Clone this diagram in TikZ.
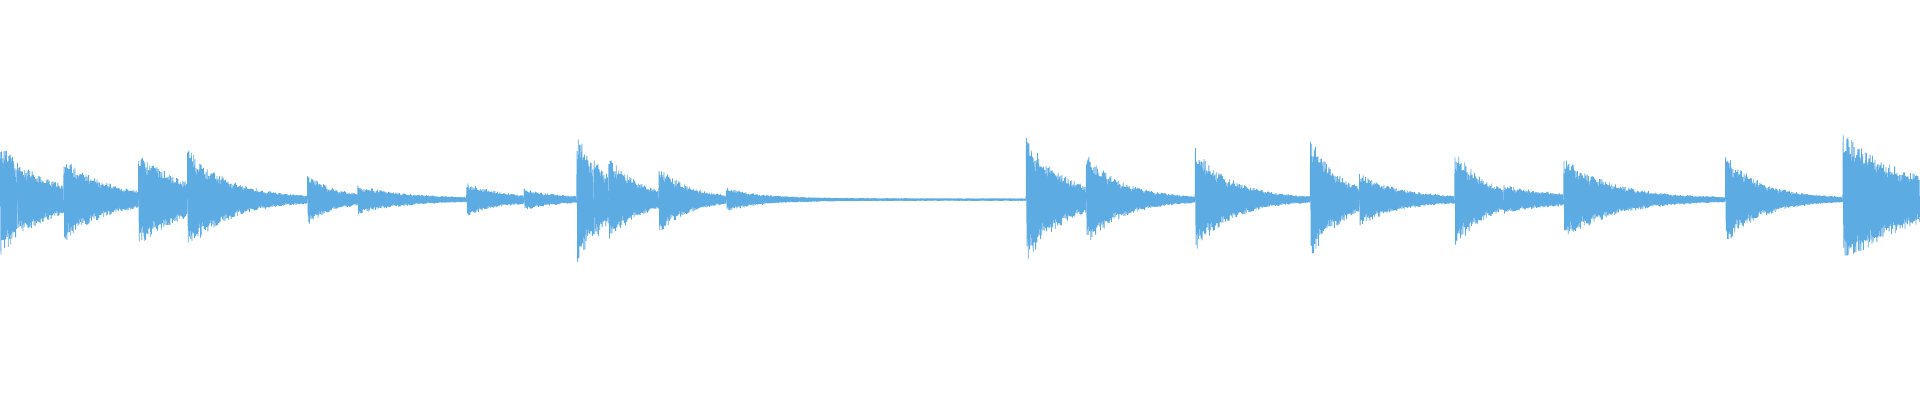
\documentclass[tikz,border=0pt]{standalone}
\definecolor{wave}{RGB}{93,171,227}
\begin{document}
\begin{tikzpicture}[x=1.2245pt,y=-1.2245pt]
\useasboundingbox (0,0) rectangle (1568,326.67);
\pgfmathsetseed{7}
\foreach \xa/\xb/\am/\ta in {0/14/45/40,14/52/30/40,52/113/35/35,113/153/38/40,153/251/41/35,251/292/20/25,292/381/11/40,381/428/13/30,428/471/8/30,471/485/53/25,485/497/35/20,497/538/35/25,538/593/27/25,593/838/9/30,838/887/53/30,887/976/37/30,976/1070/42/30,1070/1110/50/25,1110/1188/21/35,1188/1228/41/25,1228/1277/11/50,1277/1409/34/40,1409/1505/36/30,1505/1568/54/60}{
  \pgfmathtruncatemacro{\ns}{(\xb-\xa)*4+1}
  \draw[wave,line width=0.8pt,line join=bevel] plot[domain=\xa:\xb,samples=\ns]
    (\x,{163-(1+\am*exp(-(\x-\xa)/\ta))*sin(360*mod(\x,1))*(0.72+0.28*rnd)});
}
\end{tikzpicture}
\end{document}
